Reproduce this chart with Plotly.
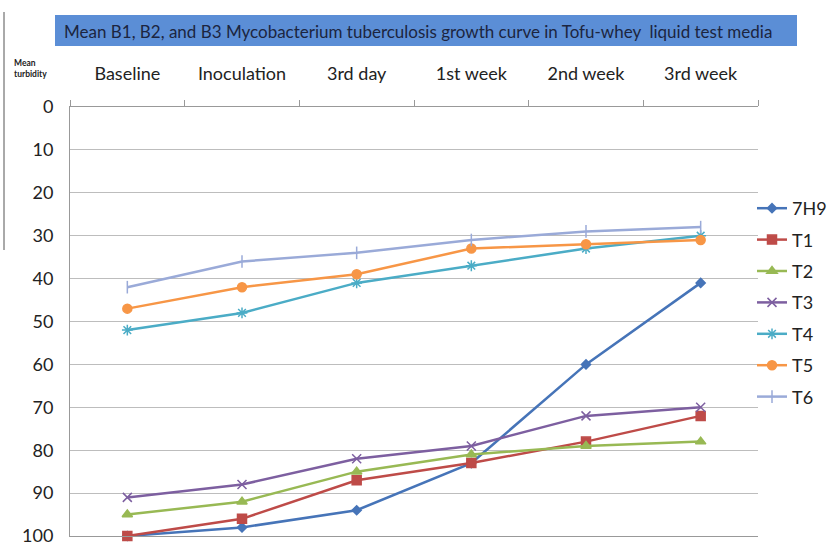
import plotly.graph_objects as go

categories = ["Baseline", "Inoculation", "3rd day", "1st week", "2nd week", "3rd week"]
s_7h9 = [100, 98, 94, 83, 60, 41]
s_t1 = [100, 96, 87, 83, 78, 72]
s_t2 = [95, 92, 85, 81, 79, 78]
s_t3 = [91, 88, 82, 79, 72, 70]
s_t4 = [52, 48, 41, 37, 33, 30]
s_t5 = [47, 42, 39, 33, 32, 31]
s_t6 = [42, 36, 34, 31, 29, 28]
y_ticks = [0, 10, 20, 30, 40, 50, 60, 70, 80, 90, 100]

series = [
    ("7H9", s_7h9, "#4674b8", "diamond", 7),
    ("T1", s_t1, "#be4b48", "square", 9),
    ("T2", s_t2, "#98b954", "triangle-up", 9),
    ("T3", s_t3, "#7d5fa0", "x-thin", 9),
    ("T4", s_t4, "#4bacc6", "asterisk", 9),
    ("T5", s_t5, "#f79646", "circle", 9),
    ("T6", s_t6, "#9aaad8", "line-ns", 9),
]

FONT = "Lato"
TOP, BOT = 107, 536   # pixel rows of y=0 and y=100
fig = go.Figure()
for name, vals, col, sym, sz in series:
    fig.add_trace(go.Scatter(
        x=categories, y=vals, name=name, mode="lines+markers", legendgroup=name,
        line=dict(color=col, width=2.5),
        marker=dict(symbol=sym, size=sz, color=col, line=dict(color=col, width=1.5)),
        cliponaxis=False,
    ))

def px_x(p):
    return (p - 70) / 688

def px_y(q):
    return (BOT - q) / (BOT - TOP)

fig.update_layout(
    width=835, height=545,
    margin=dict(l=70, r=77, t=TOP, b=545 - BOT, autoexpand=False),
    paper_bgcolor="white", plot_bgcolor="white",
    font=dict(family=FONT, color="#222222"),
    legend=dict(x=px_x(752), y=px_y(190), xanchor="left", yanchor="top",
                font=dict(size=18, family=FONT, color="#222222"),
                tracegroupgap=5, itemwidth=30, bgcolor="rgba(0,0,0,0)"),
    xaxis=dict(side="top", type="category", tickson="boundaries",
               ticks="outside", ticklen=6, tickcolor="#999999",
               showline=True, linecolor="#999999", linewidth=1, mirror=True,
               showgrid=False, tickfont=dict(size=18, family=FONT, color="#222222"),
               ticklabelstandoff=19, range=[-0.5, 5.5], automargin=False),
    yaxis=dict(range=[100, 0], tickvals=y_ticks, showgrid=True,
               gridcolor="#bdbdbd", gridwidth=1.3,
               showline=True, linecolor="#999999", zeroline=False,
               tickfont=dict(size=18, family=FONT, color="#222222"),
               ticks="", ticklabelstandoff=12, ticklabeloverflow="allow",
               automargin=False),
)

# title box
fig.add_shape(type="rect", xref="paper", yref="paper",
              x0=px_x(55), x1=px_x(797), y0=px_y(46), y1=px_y(15),
              fillcolor="#5b8ed6", line=dict(width=0))
fig.add_annotation(xref="paper", yref="paper", x=px_x(62), y=px_y(31),
                   xanchor="left", yanchor="middle", showarrow=False,
                   text="Mean B1, B2, and B3 Mycobacterium tuberculosis growth curve in Tofu-whey  liquid test media",
                   font=dict(size=17, family=FONT, color="#1c2540"))
fig.add_annotation(xref="paper", yref="paper", x=px_x(12), y=px_y(68),
                   xanchor="left", yanchor="middle", showarrow=False, align="left",
                   text="<b>Mean<br>turbidity</b>", font=dict(size=8.5, family=FONT, color="#222222"))
fig.add_shape(type="line", xref="paper", yref="paper",
              x0=px_x(4), x1=px_x(4), y0=px_y(250), y1=px_y(12),
              line=dict(color="#555555", width=1))

fig.write_html("out.html")
